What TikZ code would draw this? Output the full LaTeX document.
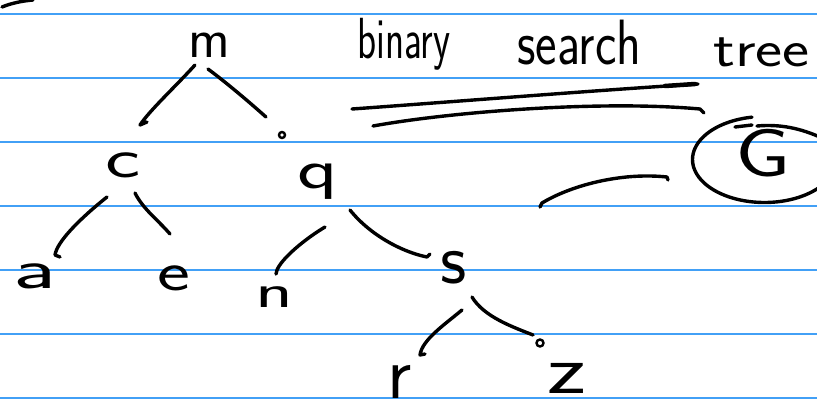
\documentclass[tikz,border=0pt]{standalone}
\usepackage{graphicx}
\definecolor{ruleblue}{RGB}{66,160,246}
\begin{document}
\begin{tikzpicture}[x=1pt,y=-1pt,
  pen/.style={line width=3.4pt,line cap=round,line join=round,black},
  ruling/.style={line width=1.8pt,ruleblue},
  letter/.style={font=\fontsize{56}{60}\selectfont\sffamily,inner sep=0pt,anchor=base},
  dot/.style={line width=2.4pt,black}]
\useasboundingbox (0,0) rectangle (817,413);
\fill[white] (0,0) rectangle (817,413);
% ruled lines
\foreach \yy in {14,78,142,206,270,334,398}
  \draw[ruling] (0,\yy) -- (817,\yy);
% stray stroke top-left
\draw[pen] (2,7) .. controls (12,3) and (22,1) .. (33,0);
% title
\node[inner sep=0pt,anchor=base west,font=\fontsize{58}{62}\selectfont\sffamily] (t1) at (357,58) {\scalebox{0.68}[1]{binary}};
\node[inner sep=0pt,anchor=base west,font=\fontsize{64}{70}\selectfont\sffamily] (t2) at (517,64) {\scalebox{0.8}[1]{search}};
\node[inner sep=0pt,anchor=base west,font=\fontsize{52}{56}\selectfont\sffamily] (t3) at (713,66) {\scalebox{1.24}[1]{tree}};
% underlines
\draw[pen] (352,109) .. controls (450,102) and (600,90) .. (698,84);
\draw[pen,line width=4.5pt] (665,86) -- (695,84);
\draw[pen] (373,126) .. controls (450,112) and (600,100) .. (700,109) -- (704,113);
% tree letters
\node[letter] (m) at (209,57) {m};
\node[letter] (c) at (123,177) {\scalebox{1.5}[1]{c}};
\node[letter] (q) at (318,188) {\scalebox{1.5}[1]{q}};
\node[letter] (a) at (35,288) {\scalebox{1.7}[1]{a}};
\node[letter] (e) at (174,290) {\scalebox{1.4}[1]{e}};
\node[letter] (n) at (274,307) {\scalebox{1.4}[0.85]{n}};
\node[letter] (s) at (454,283) {\scalebox{1.3}[1.3]{s}};
\node[letter] (r) at (400,398) {\scalebox{1.35}[1.35]{r}};
\node[letter] (z) at (567,393) {\scalebox{1.7}[1.25]{z}};
% edges
\draw[pen] ([shift={(-14,8)}]m.base) .. controls +(-20,22) and +(10,-15) .. ([shift={(17,-52)}]c.base) -- ++(7,-3);
\draw[pen] ([shift={(-1,12)}]m.base) .. controls +(20,15) and +(-18,-16) .. ([shift={(-52,-71)}]q.base);
\draw[dot] ([shift={(-36,-53)}]q.base) circle (3);
\draw[pen] ([shift={(-16,20)}]c.base) .. controls +(-25,20) and +(2,-14) .. ([shift={(20,-33)}]a.base) -- ++(5,2);
\draw[pen] ([shift={(12,16)}]c.base) .. controls +(8,16) and +(-12,-14) .. ([shift={(-4,-56)}]e.base);
\draw[pen] ([shift={(7,39)}]q.base) .. controls +(-20,12) and +(5,-12) .. ([shift={(3,-37)}]n.base) -- ++(-1,4);
\draw[pen] ([shift={(32,22)}]q.base) .. controls +(20,25) and +(-25,-5) .. ([shift={(-27,-26)}]s.base) -- ++(3,-3);
\draw[pen] ([shift={(8,27)}]s.base) .. controls +(-18,15) and +(2,-15) .. ([shift={(20,-43)}]r.base) -- ++(5,-1);
\draw[pen] ([shift={(18,14)}]s.base) .. controls +(12,20) and +(-20,-8) .. ([shift={(-34,-58)}]z.base);
\draw[dot] ([shift={(-27,-50)}]z.base) circle (3.5);
% circled G
\node[inner sep=0pt,font=\fontsize{68}{70}\selectfont\sffamily] (G) at (763,153) {\scalebox{1.3}[1]{G}};
\draw[pen] plot[domain=100:385,samples=80,smooth] ({764.5+72*cos(\x)},{159.5-43*sin(\x)});
\draw[pen] (757,126) .. controls (780,124) and (800,128) .. (822,138);
\draw[pen] (735,127) -- (752,125);
% stroke left of circle
\draw[pen] (540,207) -- (542,203) .. controls (570,186) and (620,172) .. (667,177) -- (668,180);
\end{tikzpicture}
\end{document}
